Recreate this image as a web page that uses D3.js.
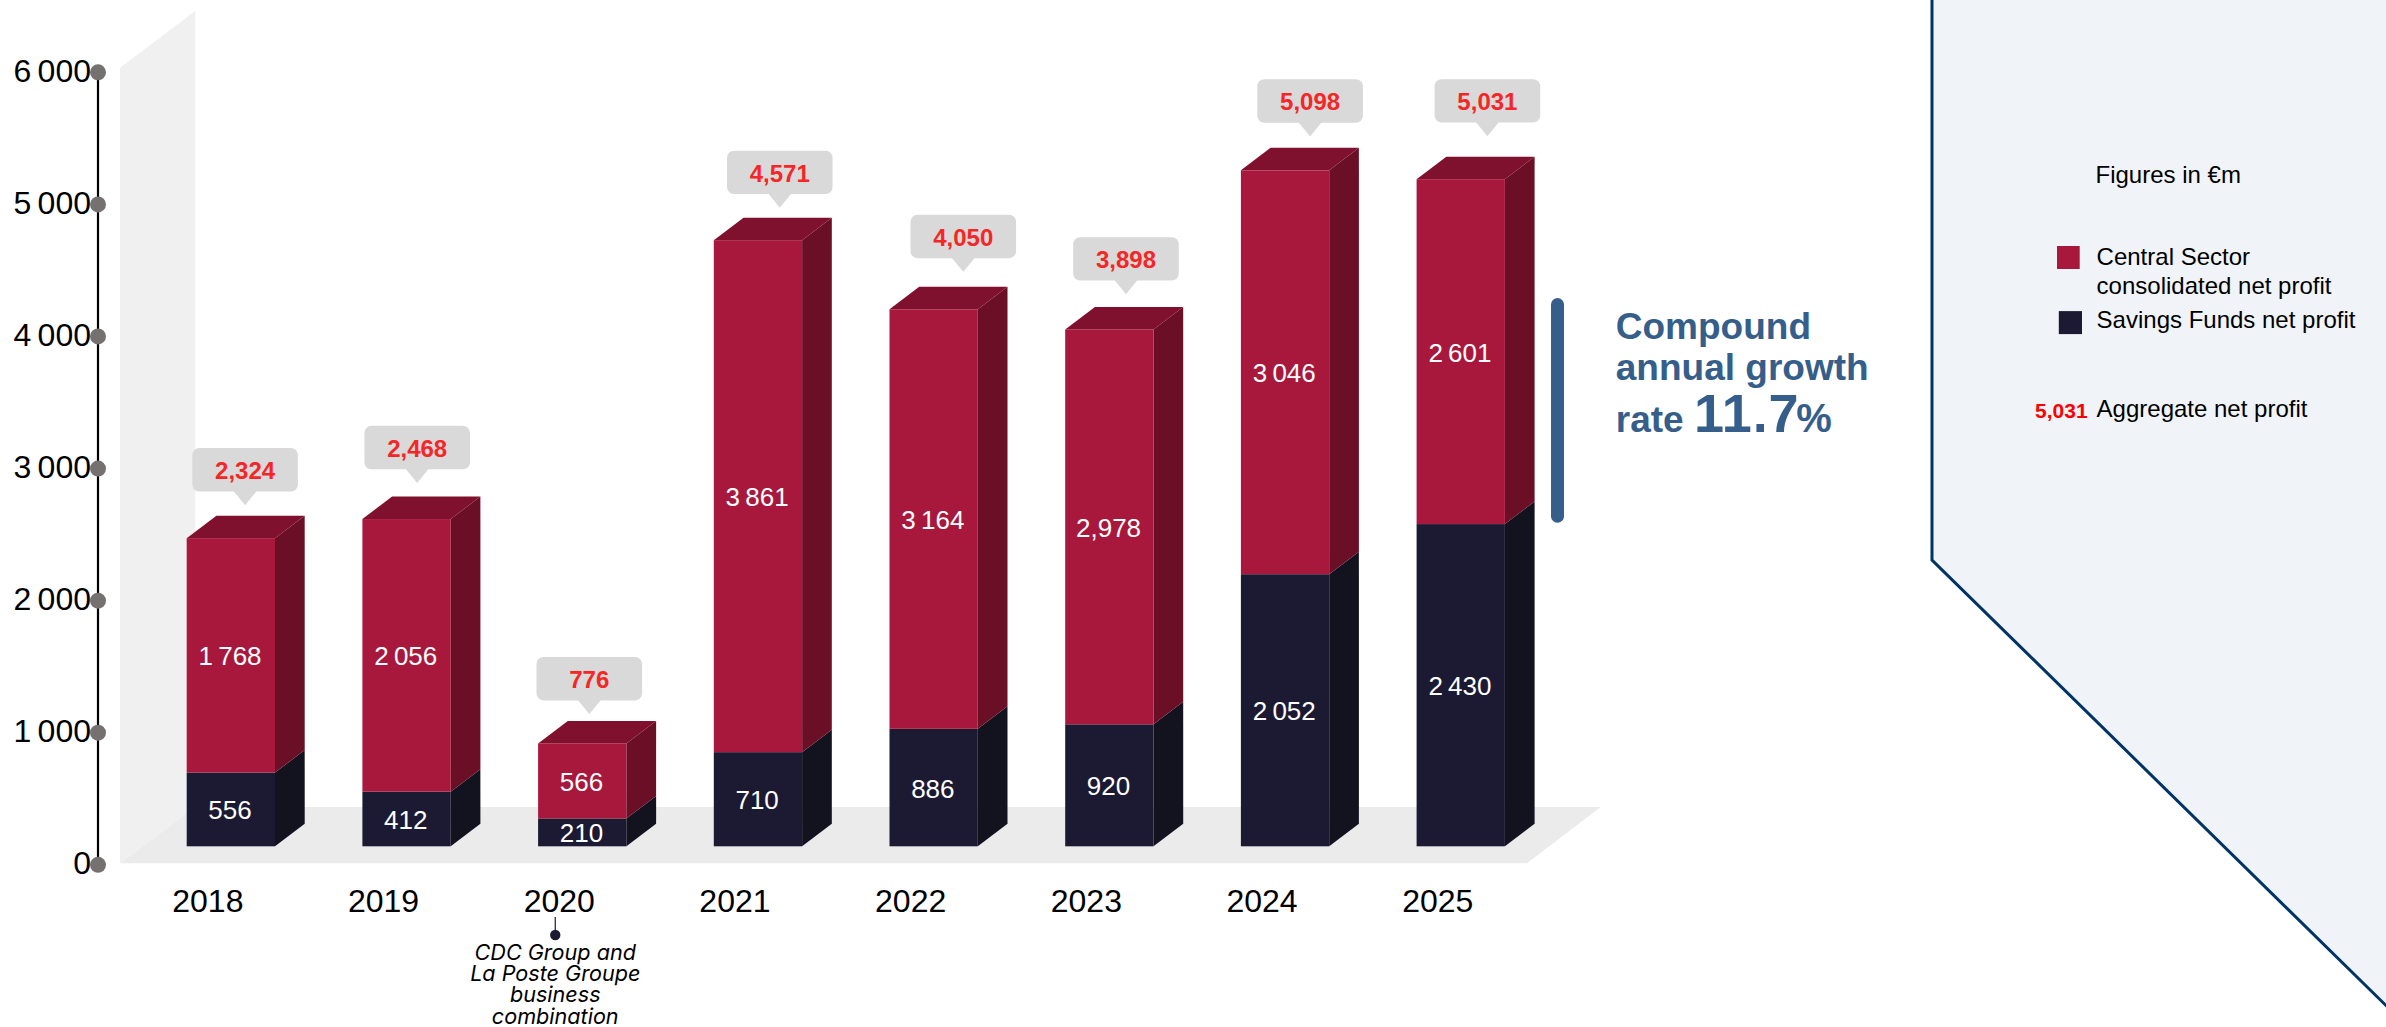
<!DOCTYPE html>
<html><head><meta charset="utf-8">
<script src="https://cdnjs.cloudflare.com/ajax/libs/d3/7.8.5/d3.min.js"></script>
<style>
html,body{margin:0;padding:0;background:#fff;overflow:hidden}
svg{display:block}
text{font-family:"Liberation Sans",Arial,sans-serif}
</style></head><body>
<script>
const years = ["2018","2019","2020","2021","2022","2023","2024","2025"];
const savingsFunds = [556,412,210,710,886,920,2052,2430];
const centralSector = [1768,2056,566,3861,3164,2978,3046,2601];
const aggregate = [2324,2468,776,4571,4050,3898,5098,5031];
const aggregateLabels = ["2,324","2,468","776","4,571","4,050","3,898","5,098","5,031"];
const savingsLabels = ["556","412","210","710","886","920","2 052","2 430"];
const centralLabels = ["1 768","2 056","566","3 861","3 164","2,978","3 046","2 601"];
const yTicks = [0,1000,2000,3000,4000,5000,6000];
const yTickLabels = ["0","1 000","2 000","3 000","4 000","5 000","6 000"];
const noteLines = ["CDC Group and","La Poste Groupe","business","combination"];
const legendCentral = ["Central Sector","consolidated net profit"];
const legendSavings = "Savings Funds net profit";
const legendAggregate = "Aggregate net profit";
const legendSample = "5,031";
const unitNote = "Figures in €m";
const cagrLines = ["Compound","annual growth","rate"];
const cagrValue = "11.7";

// callout placement relative to each bar (layout, not data)
const calloutDx = [5.6,2,-1.6,13.2,21,8,16.4,18];
const calloutGap = [90.1,93.2,86.4,89.5,94.5,92.3,91,100];

const W=2386,H=1027;
const C={red:"#a8183c",redSide:"#6b0f26",redTop:"#7f102e",dark:"#1c1a33",darkSide:"#13121f",
  wall:"#f0f0f0",floor:"#ebebeb",dot:"#757170",axis:"#000",call:"#d9d9d9",callText:"#f52626",blue:"#355e8a",
  panel:"#f0f4f8",panelLine:"#003366"};
const svg=d3.select("body").append("svg").attr("width",W).attr("height",H).attr("viewBox",`0 0 ${W} ${H}`);

const x=d3.scaleBand().domain(years).range([143,1548.6]).paddingInner(0.4974).paddingOuter(0.2487);
const yAxisScale=d3.scaleLinear().domain([0,6000]).range([864.8,72.3]);
const yBar=d3.scaleLinear().domain([0,6000]).range([846.3,50.7]);
const DX=29.7,DY=22.5;
const poly=p=>p.map(q=>q.join(",")).join(" ");

// panel
svg.append("path").attr("d",`M1932,-5 L1932,560 L2391,1010.4 L2391,-5 Z`).attr("fill",C.panel).attr("stroke",C.panelLine).attr("stroke-width",3);

// 3D walls
svg.append("polygon").attr("fill",C.wall).attr("points",poly([[120,67.7],[195.2,11.1],[195.2,807],[120,863.3]]));
svg.append("polygon").attr("fill",C.floor).attr("points",poly([[120,863.3],[195.2,807],[1600.6,807],[1527,863.3]]));

// y axis
const yG=svg.append("g").attr("transform","translate(98,0)")
 .call(d3.axisLeft(yAxisScale).offset(0).tickValues(yTicks).tickSize(0).tickPadding(7).tickFormat((d,i)=>yTickLabels[i]));
yG.select(".domain").attr("stroke",C.axis).attr("stroke-width",2.2);
yG.selectAll(".tick text").attr("font-size",32).attr("word-spacing",-2.5).attr("fill","#000").attr("dy","0.29em").style("font-family",'"Liberation Sans",Arial,sans-serif');
yG.selectAll(".tick").append("circle").attr("r",8).attr("fill",C.dot);

// x axis
const xG=svg.append("g").attr("transform","translate(-23,878)")
 .call(d3.axisBottom(x).tickSize(0).tickPadding(0));
xG.select(".domain").remove();
xG.selectAll(".tick text").attr("font-size",32).attr("fill","#000").attr("dy",0).attr("y",34).style("font-family",'"Liberation Sans",Arial,sans-serif');

// bars
const rows=years.map((y,i)=>({y,i,s:savingsFunds[i],c:centralSector[i],t:aggregate[i]}));
const bw=x.bandwidth();
const bars=svg.append("g").selectAll("g").data(rows).join("g");
bars.each(function(d){
  const g=d3.select(this),l=x(d.y),r=l+bw,b=yBar(0),m=yBar(d.s),t=yBar(d.s+d.c);
  g.append("polygon").attr("fill",C.darkSide).attr("points",poly([[r,m],[r+DX,m-DY],[r+DX,b-DY],[r,b]]));
  g.append("polygon").attr("fill",C.redSide).attr("points",poly([[r,t],[r+DX,t-DY],[r+DX,m-DY],[r,m]]));
  g.append("polygon").attr("fill",C.redTop).attr("points",poly([[l,t],[l+DX,t-DY],[r+DX,t-DY],[r,t]]));
  g.append("rect").attr("x",l).attr("width",bw).attr("y",m).attr("height",b-m).attr("fill",C.dark);
  g.append("rect").attr("x",l).attr("width",bw).attr("y",t).attr("height",m-t).attr("fill",C.red);
  g.append("text").attr("x",l+bw/2-0.8).attr("y",(b+m)/2+10).attr("text-anchor","middle").attr("font-size",26).attr("word-spacing",-2).attr("fill","#fff").text(savingsLabels[d.i]);
  g.append("text").attr("x",l+bw/2-0.8).attr("y",(m+t)/2+10).attr("text-anchor","middle").attr("font-size",26).attr("word-spacing",-2).attr("fill","#fff").text(centralLabels[d.i]);
  // callout
  const cx=l+calloutDx[d.i], cy=t-calloutGap[d.i], cw=105.6, ch=43.4, mid=cx+cw/2;
  g.append("path").attr("fill",C.call).attr("d",`M${mid-12},${cy+ch-1} L${mid},${cy+ch+13.7} L${mid+12},${cy+ch-1} Z`);
  g.append("rect").attr("x",cx).attr("y",cy).attr("width",cw).attr("height",ch).attr("rx",7).attr("fill",C.call);
  g.append("text").attr("x",mid).attr("y",cy+31).attr("text-anchor","middle").attr("font-size",24).attr("font-weight","bold").attr("fill",C.callText).text(aggregateLabels[d.i]);
});

// 2020 note
const nx=x("2020")+bw/2-27;
svg.append("line").attr("x1",nx).attr("x2",nx).attr("y1",917).attr("y2",934).attr("stroke",C.dark).attr("stroke-width",1.2);
svg.append("circle").attr("cx",nx).attr("cy",935).attr("r",5.2).attr("fill",C.dark);
svg.append("g").selectAll("text").data(noteLines).join("text")
 .attr("x",nx).attr("y",(d,i)=>960+i*21.2).attr("text-anchor","middle").attr("font-size",21.6).attr("font-style","italic").attr("fill","#000").style("font-family","Inter,'Liberation Sans',sans-serif").text(d=>d);

// CAGR
svg.append("rect").attr("x",1551).attr("y",298).attr("width",13).attr("height",224.7).attr("rx",6.5).attr("fill",C.blue);
const cagrG=svg.append("g").attr("fill",C.blue).attr("font-weight","bold");
cagrG.append("text").attr("x",1615.8).attr("y",338.6).attr("font-size",37).text(cagrLines[0]);
cagrG.append("text").attr("x",1615.8).attr("y",380).attr("font-size",37).text(cagrLines[1]);
const t3=cagrG.append("text").attr("x",1615.8).attr("y",432.3).attr("font-size",37);
t3.append("tspan").text(cagrLines[2]+" ");
t3.append("tspan").attr("font-size",54).attr("letter-spacing",0.8).text(cagrValue);
t3.append("tspan").attr("font-size",40).attr("dx",-3).text("%");

// legend
const lg=svg.append("g").attr("font-size",24).attr("fill","#000");
lg.append("text").attr("x",2095.5).attr("y",183.3).text(unitNote);
lg.append("rect").attr("x",2057).attr("y",246).attr("width",22.7).attr("height",23).attr("fill",C.red);
lg.append("text").attr("x",2096.6).attr("y",265).text(legendCentral[0]);
lg.append("text").attr("x",2096.6).attr("y",294).text(legendCentral[1]);
lg.append("rect").attr("x",2058.8).attr("y",311.1).attr("width",23.2).attr("height",23).attr("fill",C.dark);
lg.append("text").attr("x",2096.6).attr("y",328.2).text(legendSavings);
lg.append("text").attr("x",2096.6).attr("y",417.3).text(legendAggregate);
lg.append("text").attr("x",2087.6).attr("y",418.4).attr("text-anchor","end").attr("font-size",21).attr("font-weight","bold").attr("fill","#ff0000").text(legendSample);
</script></body></html>
